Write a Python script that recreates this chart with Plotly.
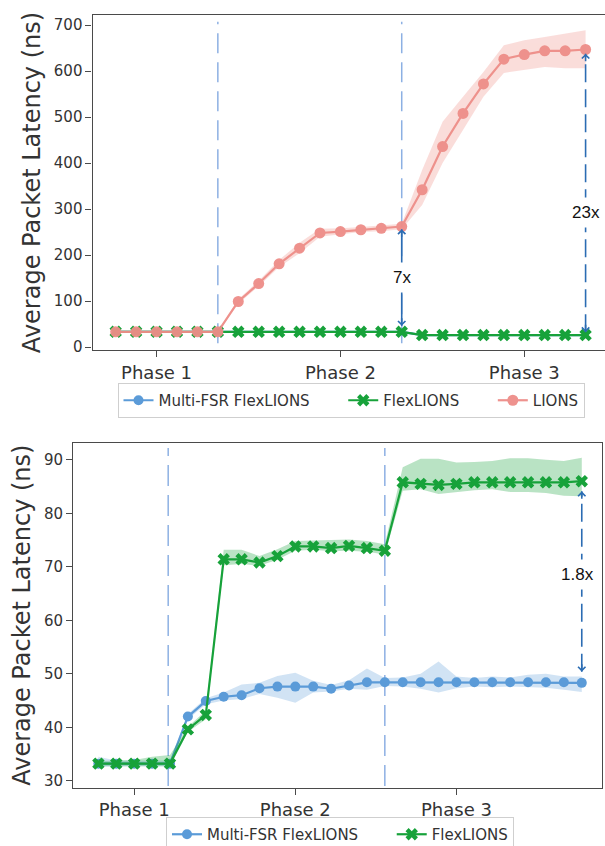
import plotly.graph_objects as go

W, H = 605, 846

# ---------------- data ----------------
phase_labels = ["Phase 1", "Phase 2", "Phase 3"]

# top panel
top_phase_ticks = [2, 11, 20]
top_phase_bounds = [5, 14]
top_x = list(range(24))
top_multi = [33, 33, 33, 33, 33, 33, 33, 33, 33, 33, 33, 33, 33, 33, 33,
             26, 26, 26, 26, 26, 26, 26, 26, 26]
top_multi_lo = [32, 32, 32, 32, 32, 32, 32, 32, 32, 32, 32, 32, 32, 32, 32,
                25, 25, 25, 25, 25, 25, 25, 25, 25]
top_multi_hi = [34, 34, 34, 34, 34, 34, 34, 34, 34, 34, 34, 34, 34, 34, 34,
                27, 27, 27, 27, 27, 27, 27, 27, 27]
top_flex = [33, 33, 33, 33, 33, 33, 33, 33, 33, 33, 33, 33, 33, 33, 33,
            26, 26, 26, 26, 26, 26, 26, 26, 26]
top_flex_lo = [31.5, 31.5, 31.5, 31.5, 31.5, 31.5, 31.5, 31.5, 31.5, 31.5, 31.5, 31.5, 31.5, 31.5, 31.5,
               24.5, 24.5, 24.5, 24.5, 24.5, 24.5, 24.5, 24.5, 24.5]
top_flex_hi = [34.5, 34.5, 34.5, 34.5, 34.5, 34.5, 34.5, 34.5, 34.5, 34.5, 34.5, 34.5, 34.5, 34.5, 34.5,
               27.5, 27.5, 27.5, 27.5, 27.5, 27.5, 27.5, 27.5, 27.5]
top_lions = [33, 33, 33, 33, 33, 33, 99, 138, 181, 215, 248, 251, 255, 258, 262,
             342, 436, 508, 572, 626, 636, 644, 644, 647]
top_lions_lo = [31, 31, 31, 31, 31, 31, 94, 132, 174, 204, 240, 245, 250, 252, 256,
                309, 400, 472, 544, 596, 602, 609, 606, 606]
top_lions_hi = [35, 35, 35, 35, 35, 35, 104, 144, 189, 227, 257, 258, 261, 265, 268,
                385, 490, 544, 598, 656, 667, 674, 682, 689]

# bottom panel
bot_phase_ticks = [2, 11, 20]
bot_phase_bounds = [3.9, 16]
bot_x = list(range(28))
bot_multi = [33.2, 33.2, 33.2, 33.2, 33.2, 42.0, 44.9, 45.7, 46.0, 47.3, 47.6, 47.6, 47.6, 47.2,
             47.8, 48.4, 48.4, 48.4, 48.4, 48.4, 48.4, 48.4, 48.4, 48.4, 48.4, 48.4, 48.4, 48.3]
bot_multi_lo = [32.6, 32.7, 32.7, 32.7, 32.7, 41.5, 44.3, 45.0, 45.3, 46.2, 45.5, 44.6, 46.5, 46.7,
                47.2, 47.0, 47.7, 47.6, 47.2, 46.5, 47.3, 47.6, 47.5, 47.6, 47.5, 47.4, 47.0, 46.6]
bot_multi_hi = [34.5, 33.8, 33.8, 33.8, 33.8, 42.5, 45.4, 46.5, 48.0, 48.3, 49.6, 50.2, 48.7, 47.9,
                48.8, 51.0, 49.2, 49.3, 50.0, 52.3, 49.5, 49.2, 49.5, 49.3, 49.8, 50.0, 49.5, 49.5]
bot_flex = [33.2, 33.2, 33.2, 33.2, 33.2, 39.6, 42.3, 71.4, 71.4, 70.8, 72.0, 73.8, 73.8, 73.5,
            73.9, 73.5, 73.0, 85.8, 85.5, 85.3, 85.5, 85.8, 85.8, 85.8, 85.8, 85.8, 85.8, 86.0]
bot_flex_lo = [32.7, 32.7, 32.7, 32.7, 32.7, 39.1, 41.5, 70.3, 70.5, 70.2, 71.3, 73.0, 73.2, 72.9,
               73.0, 72.8, 72.3, 84.2, 84.5, 83.6, 84.0, 84.3, 84.5, 84.0, 84.0, 83.8, 83.3, 83.2]
bot_flex_hi = [33.7, 33.8, 33.9, 34.5, 34.8, 40.1, 43.1, 73.2, 73.2, 72.0, 73.3, 74.8, 74.9, 75.0,
               75.1, 74.8, 74.2, 88.6, 90.2, 90.2, 89.5, 89.6, 89.8, 90.3, 90.3, 90.0, 89.8, 90.4]

series_names = ["Multi-FSR FlexLIONS", "FlexLIONS", "LIONS"]
ratio_labels_top = ["7x", "23x"]
ratio_label_bot = "1.8x"

# ---------------- style ----------------
BLUE = "#5b9bd8"
GREEN = "#17a23a"
PINK = "#ee8d88"
BLUE_BAND = "rgba(91,155,216,0.28)"
GREEN_BAND = "rgba(23,162,58,0.30)"
PINK_BAND = "rgba(238,141,136,0.30)"
PHASE_LINE = "#8db0e3"
ARROW = "#2b6cb3"
FONT = "DejaVu Sans"
PAD = "\u00a0" * 6

fig = go.Figure()


def add_series(xs, ys, lo, hi, color, band, symbol, size, name, xa, ya, legend, show,
               opacity=1.0):
    fig.add_trace(go.Scatter(x=xs, y=hi, mode="lines", line=dict(width=0), showlegend=False,
                             hoverinfo="skip", xaxis=xa, yaxis=ya))
    fig.add_trace(go.Scatter(x=xs, y=lo, mode="lines", line=dict(width=0), fill="tonexty",
                             fillcolor=band, showlegend=False, hoverinfo="skip", xaxis=xa, yaxis=ya))
    fig.add_trace(go.Scatter(x=xs, y=ys, mode="lines+markers", name=name,
                             line=dict(color=color, width=2.2),
                             marker=dict(symbol=symbol, size=size, color=color, line=dict(width=0)),
                             opacity=opacity, showlegend=show, legend=legend, xaxis=xa, yaxis=ya))


def legend_entry(color, symbol, size, name, xa, ya, legend):
    fig.add_trace(go.Scatter(x=[None], y=[None], mode="lines+markers", name=name,
                             line=dict(color=color, width=2.2),
                             marker=dict(symbol=symbol, size=size, color=color, line=dict(width=0)),
                             showlegend=True, legend=legend, xaxis=xa, yaxis=ya))


# top panel (Multi-FSR drawn first, hidden under FlexLIONS)
add_series(top_x, top_multi, top_multi_lo, top_multi_hi, BLUE, BLUE_BAND, "circle", 5,
           series_names[0], "x", "y", "legend", False)
legend_entry(BLUE, "circle", 10, series_names[0] + PAD, "x", "y", "legend")
add_series(top_x, top_flex, top_flex_lo, top_flex_hi, GREEN, GREEN_BAND, "x", 11,
           series_names[1] + PAD, "x", "y", "legend", True)
add_series(top_x, top_lions, top_lions_lo, top_lions_hi, PINK, PINK_BAND, "circle", 11,
           series_names[2], "x", "y", "legend", True, opacity=0.95)

# bottom panel
add_series(bot_x, bot_multi, bot_multi_lo, bot_multi_hi, BLUE, BLUE_BAND, "circle", 10,
           series_names[0] + PAD, "x2", "y2", "legend2", True)
add_series(bot_x, bot_flex, bot_flex_lo, bot_flex_hi, GREEN, GREEN_BAND, "x", 11,
           series_names[1], "x2", "y2", "legend2", True)

shapes = []
for b in top_phase_bounds:
    shapes.append(dict(type="line", xref="x", yref="y domain", x0=b, x1=b, y0=0.02, y1=0.98,
                       line=dict(color=PHASE_LINE, width=1.5, dash="20px,9px"), layer="below"))
for b in bot_phase_bounds:
    shapes.append(dict(type="line", xref="x2", yref="y2 domain", x0=b, x1=b, y0=0.005, y1=0.985,
                       line=dict(color=PHASE_LINE, width=1.5, dash="21px,9px"), layer="below"))

annotations = []


def ratio_arrow(xref, yref, x, y_top, y_bot, label, label_y, label_x, dashed):
    shapes.append(dict(type="line", xref=xref, yref=yref, x0=x, x1=x, y0=y_bot, y1=y_top,
                       line=dict(color=ARROW, width=1.6, dash="18px,7px" if dashed else "solid")))
    annotations.append(dict(xref=xref, yref=yref, x=x, y=y_top, ax=0, ay=9, text="",
                            showarrow=True, arrowhead=4, arrowsize=0.9, arrowwidth=1.6,
                            arrowcolor=ARROW, standoff=0))
    annotations.append(dict(xref=xref, yref=yref, x=x, y=y_bot, ax=0, ay=-9, text="",
                            showarrow=True, arrowhead=4, arrowsize=0.9, arrowwidth=1.6,
                            arrowcolor=ARROW, standoff=0))
    annotations.append(dict(xref=xref, yref=yref, x=label_x, y=label_y, text=label, showarrow=False,
                            bgcolor="white", borderpad=5,
                            font=dict(family="Liberation Sans", size=17, color="#111")))


ratio_arrow("x", "y", 14, 256, 46, ratio_labels_top[0], 152, 14, False)
ratio_arrow("x", "y", 23, 638, 32, ratio_labels_top[1], 292, 23, True)
ratio_arrow("x2", "y2", 27, 84.1, 50.4, ratio_label_bot, 68.5, 26.75, True)

axis_common = dict(showgrid=False, zeroline=False, showline=True, linecolor="#4a4a4a",
                   linewidth=1.3, ticks="outside", ticklen=6, tickwidth=1.2, tickcolor="#4a4a4a")

fig.update_layout(
    width=W, height=H,
    margin=dict(l=0, r=0, t=0, b=0, autoexpand=False),
    paper_bgcolor="white", plot_bgcolor="white",
    font=dict(family=FONT, color="#333"),
    xaxis=dict(domain=[92.6 / W, 1.0], range=[-1.13, 23.95], anchor="y",
               tickvals=top_phase_ticks, ticktext=phase_labels, mirror=True,
               tickfont=dict(size=18, color="#333"), **axis_common),
    yaxis=dict(domain=[1 - 350 / H, 1 - 15 / H], range=[-6.5, 722], anchor="x",
               tickvals=[0, 100, 200, 300, 400, 500, 600, 700], mirror=False,
               tickfont=dict(size=15, color="#333"),
               title=dict(text="Average Packet Latency (ns)", font=dict(size=24, color="#333"),
                          standoff=6),
               automargin=False, **axis_common),
    xaxis2=dict(domain=[73.3 / W, 602 / W], range=[-1.4, 28.13], anchor="y2",
                tickvals=bot_phase_ticks, ticktext=phase_labels, mirror=True,
                tickfont=dict(size=18, color="#333"), **axis_common),
    yaxis2=dict(domain=[1 - 787.7 / H, 1 - 442.7 / H], range=[28.7, 93.2], anchor="x2",
                tickvals=[30, 40, 50, 60, 70, 80, 90], mirror=True,
                tickfont=dict(size=15, color="#333"),
                title=dict(text="Average Packet Latency (ns)", font=dict(size=24, color="#333"),
                           standoff=6),
                automargin=False, **axis_common),
    legend=dict(orientation="h", x=351 / W, xanchor="center", y=1 - 383 / H, yanchor="top",
                bgcolor="white", bordercolor="#cfcfcf", borderwidth=1, traceorder="normal",
                font=dict(size=15, color="#333"), tracegroupgap=0),
    legend2=dict(orientation="h", x=340 / W, xanchor="center", y=1 - 817 / H, yanchor="top",
                 bgcolor="white", bordercolor="#cfcfcf", borderwidth=1, traceorder="normal",
                 font=dict(size=15, color="#333"), tracegroupgap=0),
    shapes=shapes,
    annotations=annotations,
    showlegend=True,
)

fig.write_html("out.html", config={"displayModeBar": False},
               post_script="document.body.style.margin='0';document.body.style.overflow='hidden';")
